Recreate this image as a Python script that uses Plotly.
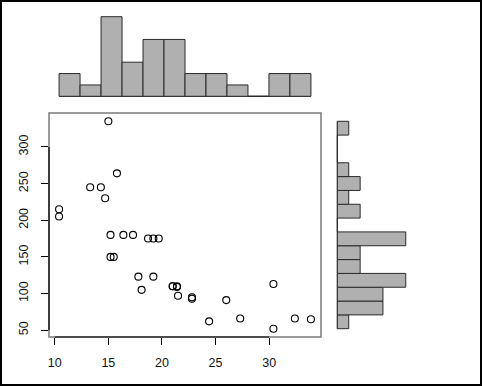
import plotly.graph_objects as go

# mtcars: mpg (x) vs hp (y)
mpg = [21.0, 21.0, 22.8, 21.4, 18.7, 18.1, 14.3, 24.4, 22.8, 19.2, 17.8, 16.4, 17.3, 15.2,
       10.4, 10.4, 14.7, 32.4, 30.4, 33.9, 21.5, 15.5, 15.2, 13.3, 19.2, 27.3, 26.0, 30.4,
       15.8, 19.7, 15.0, 21.4]
hp = [110, 110, 93, 110, 175, 105, 245, 62, 95, 123, 123, 180, 180, 180, 205, 215, 230, 66,
      52, 65, 97, 150, 150, 245, 175, 66, 91, 113, 264, 175, 335, 109]

# marginal histograms (counts per bin)
mpg_breaks = [10, 12, 14, 16, 18, 20, 22, 24, 26, 28, 30, 32, 34]
mpg_counts = [2, 1, 7, 3, 5, 5, 2, 2, 1, 0, 2, 2]
hp_breaks = [40, 60, 80, 100, 120, 140, 160, 180, 200, 220, 240, 260, 280, 300, 320, 340]
hp_counts = [1, 4, 4, 6, 2, 2, 6, 0, 2, 1, 2, 1, 0, 0, 1]

x_ticks = [10, 15, 20, 25, 30]
y_ticks = [50, 100, 150, 200, 250, 300]

W, H = 482, 386
def px_x(a, b):
    return [a / W, b / W]
def px_y(top, bottom):
    return [1 - bottom / H, 1 - top / H]

def ext(lo, hi):
    d = (hi - lo) * 0.04
    return [lo - d, hi + d]

FONT = dict(family="Liberation Sans, Arial, Helvetica, sans-serif", size=12.5, color="#111111")
HIST_FILL = "#b0b0b0"
HIST_LINE = "#2a2a2a"

fig = go.Figure()

# scatter
fig.add_trace(go.Scatter(
    x=mpg, y=hp, mode="markers", xaxis="x", yaxis="y",
    marker=dict(symbol="circle-open", size=7, color="black", line=dict(width=1.1, color="black")),
    showlegend=False, hoverinfo="skip"))

# top histogram
mpg_centers = [(mpg_breaks[i] + mpg_breaks[i + 1]) / 2 for i in range(len(mpg_counts))]
mpg_widths = [mpg_breaks[i + 1] - mpg_breaks[i] for i in range(len(mpg_counts))]
fig.add_trace(go.Bar(
    x=mpg_centers, y=mpg_counts, width=mpg_widths, xaxis="x2", yaxis="y2",
    marker=dict(color=HIST_FILL, line=dict(color=HIST_LINE, width=1)),
    showlegend=False, hoverinfo="skip"))

# right histogram
hp_centers = [(hp_breaks[i] + hp_breaks[i + 1]) / 2 for i in range(len(hp_counts))]
hp_widths = [hp_breaks[i + 1] - hp_breaks[i] for i in range(len(hp_counts))]
fig.add_trace(go.Bar(
    y=hp_centers, x=hp_counts, width=hp_widths, orientation="h", xaxis="x3", yaxis="y3",
    marker=dict(color=HIST_FILL, line=dict(color=HIST_LINE, width=1)),
    showlegend=False, hoverinfo="skip"))

main_x_dom = px_x(49, 321)
main_y_dom = px_y(113, 337)

fig.update_layout(
    width=W, height=H,
    margin=dict(l=0, r=0, t=0, b=0),
    paper_bgcolor="white", plot_bgcolor="white",
    font=FONT,
    bargap=0,
    xaxis=dict(domain=main_x_dom, range=ext(min(mpg), max(mpg)), anchor="y",
               tickvals=x_ticks, ticks="outside", ticklen=7, tickwidth=1, tickcolor="black",
               showline=False, showgrid=False, zeroline=False, tickfont=FONT,
               ticklabelstandoff=7),
    yaxis=dict(domain=main_y_dom, range=ext(min(hp), max(hp)), anchor="x",
               tickvals=y_ticks, ticks="outside", ticklen=7, tickwidth=1, tickcolor="black",
               showline=False, showgrid=False, zeroline=False, tickfont=FONT,
               tickangle=-90, ticklabelstandoff=8),
    xaxis2=dict(domain=main_x_dom, range=ext(mpg_breaks[0], mpg_breaks[-1]), anchor="y2",
                visible=False),
    yaxis2=dict(domain=px_y(13.5, 99.5), range=ext(0, max(mpg_counts)), anchor="x2",
                visible=False),
    xaxis3=dict(domain=px_x(334.6, 408.5), range=ext(0, max(hp_counts)), anchor="y3",
                visible=False),
    yaxis3=dict(domain=main_y_dom, range=ext(hp_breaks[0], hp_breaks[-1]), anchor="x3",
                visible=False),
)

shapes = [
    # box around main plot
    dict(type="rect", xref="x domain", yref="y domain", x0=0, x1=1, y0=0, y1=1,
         line=dict(color="#7a7a7a", width=1.5), layer="above"),
    # axis segments (R style)
    dict(type="line", xref="x", yref="y domain", x0=x_ticks[0], x1=x_ticks[-1], y0=0, y1=0,
         line=dict(color="black", width=1.2), layer="above"),
    dict(type="line", xref="x domain", yref="y", x0=0, x1=0, y0=y_ticks[0], y1=y_ticks[-1],
         line=dict(color="black", width=1.2), layer="above"),
    # baselines of histograms (zero-height bins)
    dict(type="line", xref="x2", yref="y2", x0=mpg_breaks[0], x1=mpg_breaks[-1], y0=0, y1=0,
         line=dict(color=HIST_LINE, width=1), layer="below"),
    dict(type="line", xref="x3", yref="y3", x0=0, x1=0, y0=hp_breaks[0], y1=hp_breaks[-1],
         line=dict(color=HIST_LINE, width=1), layer="below"),
    # outer frame
    dict(type="rect", xref="paper", yref="paper", x0=1 / W, x1=1 - 1 / W, y0=1 / H, y1=1 - 1 / H,
         line=dict(color="black", width=2)),
]
fig.update_layout(shapes=shapes)

fig.write_html("out.html", config={"displayModeBar": False, "staticPlot": True},
               post_script="document.body.style.margin='0';document.body.style.overflow='hidden';")
